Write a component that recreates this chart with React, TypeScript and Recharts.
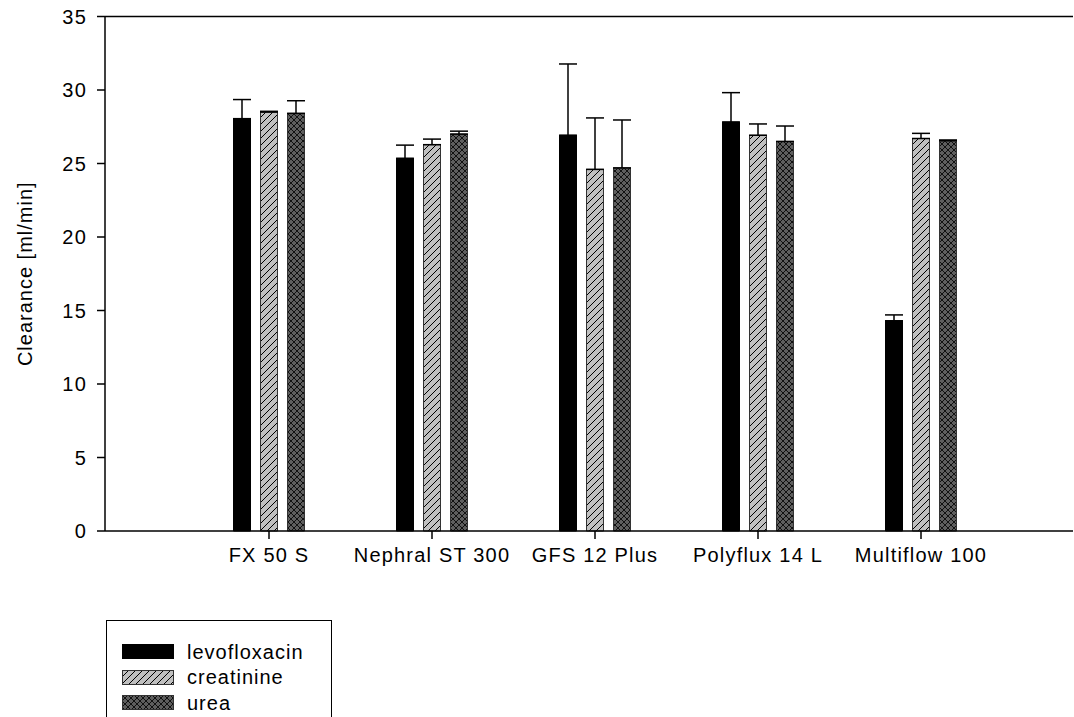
import React from 'react';
import { BarChart, Bar, XAxis, YAxis, ErrorBar, Legend, ReferenceLine } from 'recharts';

const dialyzers = ['FX 50 S', 'Nephral ST 300', 'GFS 12 Plus', 'Polyflux 14 L', 'Multiflow 100'];

const levofloxacin = [28.05, 25.35, 26.92, 27.82, 14.3];
const levofloxacinSd = [1.3, 0.9, 4.85, 2.0, 0.4];
const creatinine = [28.5, 26.28, 24.6, 26.92, 26.7];
const creatinineSd = [0.05, 0.38, 3.5, 0.77, 0.35];
const urea = [28.41, 27.0, 24.7, 26.5, 26.55];
const ureaSd = [0.86, 0.2, 3.26, 1.05, 0.05];

const yTicks = [0, 5, 10, 15, 20, 25, 30, 35];

// SigmaPlot style: only the upper whisker is shown
const data = dialyzers.map((name, i) => ({
  name,
  levofloxacin: levofloxacin[i],
  levoErr: [0, levofloxacinSd[i]],
  creatinine: creatinine[i],
  creatErr: [0, creatinineSd[i]],
  urea: urea[i],
  ureaErr: [0, ureaSd[i]],
}));

const FONT = '"Liberation Sans", Arial, sans-serif';
const tickStyle = { fill: '#000', fontSize: 20, fontFamily: FONT, letterSpacing: 1.2 };

const series = [
  { key: 'levofloxacin', label: 'levofloxacin', fill: '#000', stroke: '#000' },
  { key: 'creatinine', label: 'creatinine', fill: 'url(#hatchCreat)', stroke: '#333' },
  { key: 'urea', label: 'urea', fill: 'url(#hatchUrea)', stroke: '#333' },
];

const renderLegend = () => (
  <div
    style={{
      border: '1.5px solid #000',
      borderBottom: 'none',
      height: 97,
      boxSizing: 'border-box',
      paddingTop: 18,
      paddingLeft: 15,
      fontFamily: FONT,
      fontSize: 20,
      letterSpacing: 1,
    }}
  >
    {series.map(s => (
      <div key={s.key} style={{ display: 'flex', alignItems: 'center', height: 25.5 }}>
        <svg width={52} height={15} style={{ display: 'block' }}>
          <rect x={0.5} y={0.5} width={51} height={14} fill={s.fill} stroke={s.stroke} strokeWidth={1} />
        </svg>
        <span style={{ marginLeft: 13, lineHeight: '20px' }}>{s.label}</span>
      </div>
    ))}
  </div>
);

export default function App() {
  return (
    <div style={{ position: 'absolute', left: 0, top: 0, background: '#fff' }}>
      <BarChart
        width={1074}
        height={717}
        data={data}
        margin={{ top: 16.5, right: 1, bottom: 156, left: 0 }}
        barSize={17}
        barGap={10}
      >
        <defs>
          <pattern id="hatchCreat" patternUnits="userSpaceOnUse" width="7" height="7">
            <rect width="7" height="7" fill="#c0c0c0" />
            <path d="M-1,1 L1,-1 M0,7 L7,0 M6,8 L8,6" stroke="#000" strokeWidth="1" />
          </pattern>
          <pattern id="hatchUrea" patternUnits="userSpaceOnUse" width="6" height="6">
            <rect width="6" height="6" fill="#5e5e5e" />
            <path d="M0,0 L6,6 M6,0 L0,6" stroke="#111" strokeWidth="1" />
          </pattern>
        </defs>
        <XAxis
          dataKey="name"
          height={30}
          padding={{ left: 82.5, right: 70.5 }}
          axisLine={{ stroke: '#000', strokeWidth: 1.5 }}
          tickLine={{ stroke: '#000', strokeWidth: 1.5 }}
          tickSize={8}
          tickMargin={9}
          tick={tickStyle}
          interval={0}
        />
        <YAxis
          width={105}
          domain={[0, 35]}
          ticks={yTicks}
          interval={0}
          axisLine={{ stroke: '#000', strokeWidth: 1.5 }}
          tickLine={{ stroke: '#000', strokeWidth: 1.5 }}
          tickSize={8}
          tickMargin={10}
          tick={tickStyle}
          label={{
            value: 'Clearance [ml/min]',
            angle: -90,
            position: 'insideLeft',
            offset: 25,
            style: { textAnchor: 'middle', fontSize: 20, fontFamily: FONT, letterSpacing: 1, fill: '#000' },
          }}
        />
        <ReferenceLine y={35} stroke="#000" strokeWidth={1.5} />
        <Bar dataKey="levofloxacin" fill="#000" stroke="#000" isAnimationActive={false}>
          <ErrorBar dataKey="levoErr" width={9} stroke="#000" strokeWidth={1.5} direction="y" />
        </Bar>
        <Bar dataKey="creatinine" fill="url(#hatchCreat)" stroke="#333" isAnimationActive={false}>
          <ErrorBar dataKey="creatErr" width={9} stroke="#000" strokeWidth={1.5} direction="y" />
        </Bar>
        <Bar dataKey="urea" fill="url(#hatchUrea)" stroke="#333" isAnimationActive={false}>
          <ErrorBar dataKey="ureaErr" width={9} stroke="#000" strokeWidth={1.5} direction="y" />
        </Bar>
        <Legend
          layout="vertical"
          align="center"
          verticalAlign="middle"
          wrapperStyle={{ left: 106, top: 620, width: 226 }}
          content={renderLegend}
        />
      </BarChart>
    </div>
  );
}
